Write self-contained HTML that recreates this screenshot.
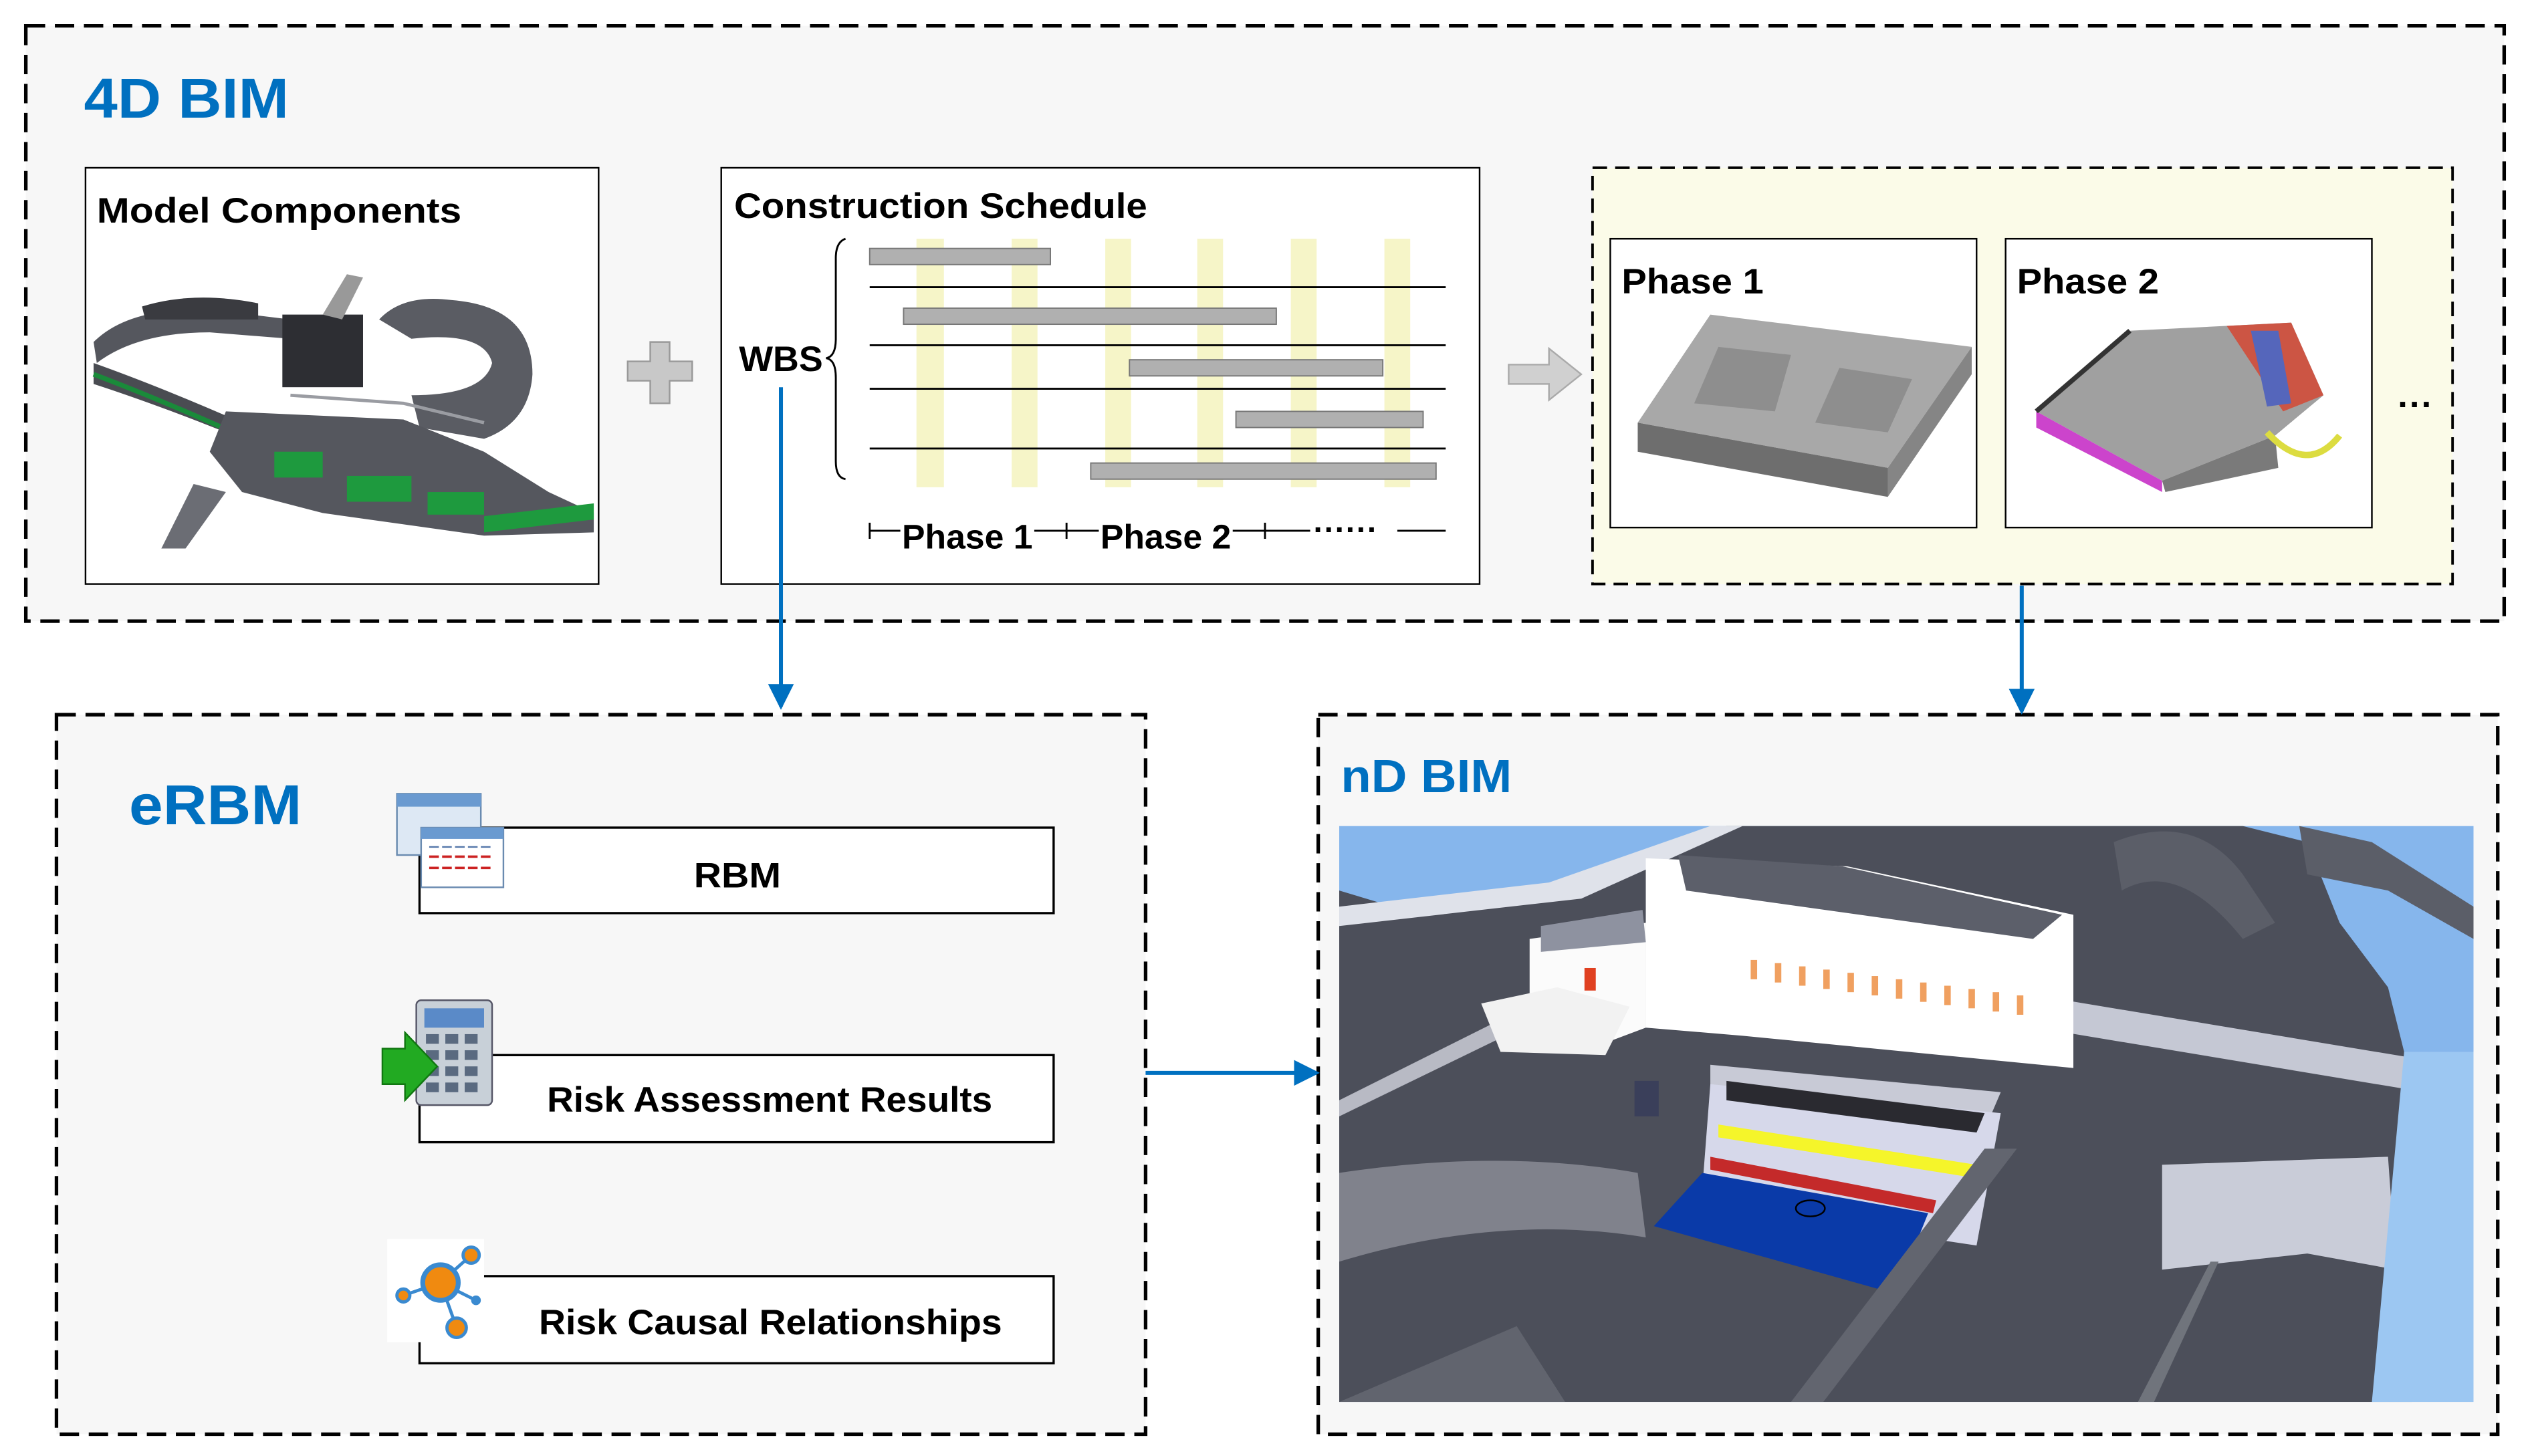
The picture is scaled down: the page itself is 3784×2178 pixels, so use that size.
<!DOCTYPE html>
<html><head><meta charset="utf-8"><style>
html,body{margin:0;padding:0;background:#fff;}
svg{display:block;}
text{font-family:"Liberation Sans",sans-serif;font-weight:bold;}
</style></head><body>
<svg width="3784" height="2178" viewBox="0 0 1568 902.5" preserveAspectRatio="none" xmlns="http://www.w3.org/2000/svg">
<defs>
<marker id="ab" markerWidth="16" markerHeight="16" refX="14" refY="8" orient="auto" markerUnits="userSpaceOnUse"><path d="M0,0 L16,8 L0,16 z" fill="#0070C0"/></marker>
</defs>
<rect width="1568" height="902.5" fill="#fff"/>
<rect x="16" y="16" width="1536" height="369" fill="#f7f7f7" stroke="#000" stroke-width="2.2" stroke-dasharray="12,6"/>
<text x="52" y="73" font-size="35" fill="#0070C0" textLength="127" lengthAdjust="spacingAndGlyphs">4D BIM</text>

<rect x="53" y="104" width="318" height="258" fill="#fff" stroke="#000" stroke-width="1"/>
<text x="60" y="138" font-size="22" fill="#000" textLength="226" lengthAdjust="spacingAndGlyphs">Model Components</text>
<g>
<path d="M58,212 Q80,190 130,192 L180,198 L180,210 L130,206 Q85,206 60,225 Z" fill="#55575e"/>
<path d="M58,225 Q100,240 150,262 L170,268 L165,276 L140,268 Q95,250 58,238 Z" fill="#4a4c52"/>
<path d="M58,232 Q95,246 140,266" stroke="#1a8a3a" stroke-width="3" fill="none"/>
<path d="M88,190 Q120,180 160,188 L160,198 L90,198 Z" fill="#3a3b40"/>
<path d="M235,198 Q250,182 280,186 Q330,190 330,232 Q328,262 300,272 L260,265 L255,245 Q300,245 305,225 Q300,205 255,210 Z" fill="#5a5c63"/>
<rect x="175" y="195" width="50" height="45" fill="#2d2e33"/>
<path d="M200,195 L215,170 L225,172 L212,198 Z" fill="#999"/>
<path d="M140,255 L250,260 L300,280 L340,305 L368,318 L368,330 L300,332 L200,318 L150,305 L130,280 Z" fill="#55575e"/>
<rect x="170" y="280" width="30" height="16" fill="#1e9a3e"/>
<rect x="215" y="295" width="40" height="16" fill="#1e9a3e"/>
<rect x="265" y="305" width="35" height="14" fill="#1e9a3e"/>
<path d="M300,320 L368,312 L368,322 L300,330 Z" fill="#1e9a3e"/>
<path d="M120,300 L100,340 L115,340 L140,305 Z" fill="#6b6d74"/>
<path d="M180,245 L250,250 L300,262" stroke="#9a9ca2" stroke-width="2" fill="none"/>
</g>

<path d="M403,212 h12 v12 h14 v12 h-14 v14 h-12 v-14 h-14 v-12 h14 z" fill="#c8c8c8" stroke="#999" stroke-width="1"/>

<rect x="447" y="104" width="470" height="258" fill="#fff" stroke="#000" stroke-width="1"/>
<text x="455" y="135" font-size="22" fill="#000" textLength="256" lengthAdjust="spacingAndGlyphs">Construction Schedule</text>
<g fill="#f6f5c8">
<rect x="568" y="148" width="17" height="154"/><rect x="627" y="148" width="16" height="154"/><rect x="685" y="148" width="16" height="154"/><rect x="742" y="148" width="16" height="154"/><rect x="800" y="148" width="16" height="154"/><rect x="858" y="148" width="16" height="154"/>
</g>
<g stroke="#000" stroke-width="1.2">
<line x1="539" y1="178" x2="896" y2="178"/><line x1="539" y1="214" x2="896" y2="214"/><line x1="539" y1="241" x2="896" y2="241"/><line x1="539" y1="278" x2="896" y2="278"/>
</g>
<g fill="#b0b0b0" stroke="#777" stroke-width="0.8">
<rect x="539" y="154" width="112" height="10"/><rect x="560" y="191" width="231" height="10"/><rect x="700" y="223" width="157" height="10"/><rect x="766" y="255" width="116" height="10"/><rect x="676" y="287" width="214" height="10"/>
</g>
<path d="M524,148 Q518,150 518,160 L518,210 Q518,221 512,222 Q518,223 518,234 L518,286 Q518,296 524,297" fill="none" stroke="#000" stroke-width="1.2"/>
<text x="458" y="230" font-size="22" fill="#000" textLength="52" lengthAdjust="spacingAndGlyphs">WBS</text>
<g stroke="#000" stroke-width="1.2">
<line x1="539" y1="329" x2="558" y2="329"/><line x1="539" y1="324" x2="539" y2="334"/>
<line x1="641" y1="329" x2="681" y2="329"/><line x1="661" y1="324" x2="661" y2="334"/>
<line x1="764" y1="329" x2="812" y2="329"/><line x1="784" y1="324" x2="784" y2="334"/>
<line x1="866" y1="329" x2="896" y2="329"/>
</g>
<text x="559" y="340" font-size="21" fill="#000" textLength="81" lengthAdjust="spacingAndGlyphs">Phase 1</text>
<text x="682" y="340" font-size="21" fill="#000" textLength="81" lengthAdjust="spacingAndGlyphs">Phase 2</text>
<text x="814" y="335" font-size="20" fill="#000">······</text>

<path d="M935,226 h25 v-10 l20,16 l-20,16 v-10 h-25 z" fill="#d0d0d0" stroke="#aaa" stroke-width="1"/>

<rect x="987" y="104" width="533" height="258" fill="#fbfbe8" stroke="#000" stroke-width="1.6" stroke-dasharray="9,5"/>
<rect x="998" y="148" width="227" height="179" fill="#fff" stroke="#000" stroke-width="1"/>
<text x="1005" y="182" font-size="22" fill="#000" textLength="88" lengthAdjust="spacingAndGlyphs">Phase 1</text>
<path d="M1060,195 L1222,215 L1170,290 L1015,262 Z" fill="#a8a8a8"/>
<path d="M1015,262 L1170,290 L1170,308 L1015,280 Z" fill="#6e6e6e"/>
<path d="M1170,290 L1222,215 L1222,232 L1170,308 Z" fill="#858585"/>
<path d="M1065,215 L1110,220 L1100,255 L1050,250 Z" fill="#8e8e8e"/>
<path d="M1140,228 L1185,235 L1170,268 L1125,262 Z" fill="#8e8e8e"/>
<rect x="1243" y="148" width="227" height="179" fill="#fff" stroke="#000" stroke-width="1"/>
<text x="1250" y="182" font-size="22" fill="#000" textLength="88" lengthAdjust="spacingAndGlyphs">Phase 2</text>
<path d="M1262,255 L1320,205 L1420,200 L1440,245 L1410,270 L1340,298 Z" fill="#a0a0a0"/>
<path d="M1262,255 L1340,298 L1340,305 L1262,265 Z" fill="#cc44cc"/>
<path d="M1340,298 L1410,270 L1412,290 L1342,305 Z" fill="#7a7a7a"/>
<path d="M1380,202 L1420,200 L1440,245 L1415,255 Z" fill="#cc5544"/>
<path d="M1395,205 L1412,205 L1420,250 L1405,252 Z" fill="#5566bb"/>
<path d="M1405,268 Q1430,295 1450,270" fill="none" stroke="#dcdc40" stroke-width="4"/>
<path d="M1262,255 L1320,205" stroke="#333" stroke-width="3"/>
<text x="1486" y="258" font-size="22" fill="#000">···</text>

<rect x="35" y="443" width="675" height="446" fill="#f7f7f7" stroke="#000" stroke-width="2.2" stroke-dasharray="12,6"/>
<text x="80" y="511" font-size="35" fill="#0070C0" textLength="107" lengthAdjust="spacingAndGlyphs">eRBM</text>
<rect x="260" y="513" width="393" height="53" fill="#fff" stroke="#000" stroke-width="1.4"/>
<text x="430" y="550" font-size="22" fill="#000" font-weight="normal" textLength="54" lengthAdjust="spacingAndGlyphs">RBM</text>
<rect x="260" y="654" width="393" height="54" fill="#fff" stroke="#000" stroke-width="1.4"/>
<text x="339" y="689" font-size="22" fill="#000" textLength="276" lengthAdjust="spacingAndGlyphs">Risk Assessment Results</text>
<rect x="260" y="791" width="393" height="54" fill="#fff" stroke="#000" stroke-width="1.4"/>
<text x="334" y="827" font-size="22" fill="#000" textLength="287" lengthAdjust="spacingAndGlyphs">Risk Causal Relationships</text>
<rect x="246" y="492" width="52" height="38" fill="#dde8f4" stroke="#6a8bb0" stroke-width="1"/>
<rect x="246" y="492" width="52" height="8" fill="#6a9ad0"/>
<rect x="261" y="513" width="51" height="37" fill="#fff" stroke="#6a8bb0" stroke-width="1"/>
<rect x="261" y="513" width="51" height="7" fill="#6a9ad0"/>
<g stroke="#cc2222" stroke-width="1.5"><line x1="266" y1="531" x2="306" y2="531" stroke-dasharray="6,2"/><line x1="266" y1="538" x2="306" y2="538" stroke-dasharray="6,2"/></g>
<line x1="266" y1="525" x2="306" y2="525" stroke="#5577aa" stroke-dasharray="6,2"/>
<rect x="258" y="620" width="47" height="65" rx="3" fill="#c8d0d8" stroke="#556" stroke-width="1"/>
<rect x="263" y="625" width="37" height="12" fill="#5a8ac8"/>
<g fill="#5a6a80"><rect x="264" y="641" width="8" height="6"/><rect x="276" y="641" width="8" height="6"/><rect x="288" y="641" width="8" height="6"/><rect x="264" y="651" width="8" height="6"/><rect x="276" y="651" width="8" height="6"/><rect x="288" y="651" width="8" height="6"/><rect x="264" y="661" width="8" height="6"/><rect x="276" y="661" width="8" height="6"/><rect x="288" y="661" width="8" height="6"/><rect x="264" y="671" width="8" height="6"/><rect x="276" y="671" width="8" height="6"/><rect x="288" y="671" width="8" height="6"/></g>
<path d="M237,650 h14 v-10 l20,21 l-20,21 v-10 h-14 z" fill="#22aa22" stroke="#117711" stroke-width="1"/>
<rect x="240" y="768" width="60" height="64" fill="#fff"/>
<g stroke="#3a8ad0" stroke-width="2" fill="none"><line x1="273" y1="795" x2="292" y2="778"/><line x1="273" y1="795" x2="250" y2="803"/><line x1="273" y1="795" x2="283" y2="823"/><line x1="273" y1="795" x2="295" y2="806"/></g>
<circle cx="273" cy="795" r="11" fill="#f08a10" stroke="#3a8ad0" stroke-width="3"/>
<circle cx="292" cy="778" r="5" fill="#f08a10" stroke="#3a8ad0" stroke-width="2"/>
<circle cx="250" cy="803" r="4" fill="#f08a10" stroke="#3a8ad0" stroke-width="2"/>
<circle cx="283" cy="823" r="6" fill="#f08a10" stroke="#3a8ad0" stroke-width="2"/>
<circle cx="295" cy="806" r="3" fill="#3a8ad0"/>

<rect x="817" y="443" width="731" height="446" fill="#f7f7f7" stroke="#000" stroke-width="2.2" stroke-dasharray="12,6"/>
<text x="831" y="491" font-size="29" fill="#0070C0" textLength="106" lengthAdjust="spacingAndGlyphs">nD BIM</text>
<svg x="830" y="512" width="703" height="357" viewBox="0 0 703 357" preserveAspectRatio="none">
<rect width="703" height="357" fill="#86b6ec"/>
<path d="M0,40 L40,52 L70,50 L140,40 L240,0 L560,0 L600,10 L620,60 L650,100 L660,140 L665,357 L0,357 Z" fill="#4c4f5a"/>
<path d="M0,50 L130,35 L230,0 L250,0 L150,45 L0,62 Z" fill="#dfe2ea"/>
<path d="M480,10 Q530,-10 560,30 L580,60 L560,70 Q520,20 485,40 Z" fill="#5b5e68"/>
<path d="M595,0 L640,10 L703,50 L703,70 L650,40 L600,30 Z" fill="#5b5e68"/>
<path d="M140,100 L0,170 L0,180 L140,112 Z" fill="#b8bac4"/>
<path d="M450,108 L703,150 L703,170 L450,128 Z" fill="#c5c8d4"/>
<path d="M0,215 Q100,200 185,215 L190,255 Q100,240 0,270 Z" fill="#80828c"/>
<path d="M510,210 L650,205 L655,275 L600,265 L510,275 Z" fill="#c9ccd8"/>
<path d="M190,20 L315,25 L455,55 L455,150 L250,130 L190,125 Z" fill="#ffffff"/>
<path d="M210,18 L312,25 L448,55 L430,70 L215,40 Z" fill="#5c5f6a"/>
<g fill="#f0a060"><rect x="255" y="83" width="4" height="12"/><rect x="270" y="85" width="4" height="12"/><rect x="285" y="87" width="4" height="12"/><rect x="300" y="89" width="4" height="12"/><rect x="315" y="91" width="4" height="12"/><rect x="330" y="93" width="4" height="12"/><rect x="345" y="95" width="4" height="12"/><rect x="360" y="97" width="4" height="12"/><rect x="375" y="99" width="4" height="12"/><rect x="390" y="101" width="4" height="12"/><rect x="405" y="103" width="4" height="12"/><rect x="420" y="105" width="4" height="12"/></g>
<path d="M118,70 L190,60 L190,125 L150,140 L118,130 Z" fill="#fbfbfb"/>
<path d="M125,62 L188,52 L190,72 L125,78 Z" fill="#8e92a0"/>
<rect x="152" y="88" width="7" height="14" fill="#e04020"/>
<path d="M88,110 L135,100 L180,112 L165,142 L100,140 Z" fill="#f2f2f2"/>
<path d="M230,148 L410,165 L395,200 L230,180 Z" fill="#c8cad6"/>
<path d="M230,160 L410,178 L395,260 L260,240 L225,225 Z" fill="#d6d8ea"/>
<path d="M235,185 L395,210 L393,218 L235,193 Z" fill="#f5f52a"/>
<path d="M230,205 L370,232 L368,240 L230,213 Z" fill="#c42a2a"/>
<path d="M225,215 L365,240 L345,290 L195,248 Z" fill="#0a3aa8"/>
<path d="M240,158 L400,178 L395,190 L240,170 Z" fill="#2a2a30"/>
<ellipse cx="292" cy="237" rx="9" ry="5" fill="none" stroke="#000" stroke-width="1"/>
<rect x="183" y="158" width="15" height="22" fill="#3a3f5a"/>
<path d="M0,357 L110,310 L140,357 Z" fill="#61646e"/>
<path d="M400,200 L420,200 L300,357 L280,357 Z" fill="#62656f"/>
<path d="M540,270 L545,270 L505,357 L495,357 Z" fill="#70747c"/>
<path d="M660,140 L703,140 L703,357 L640,357 Z" fill="#9cc7f2"/>
</svg>

<g stroke="#0070C0" stroke-width="2.5" fill="none">
<line x1="484" y1="240" x2="484" y2="438" marker-end="url(#ab)"/>
<line x1="1253" y1="363" x2="1253" y2="441" marker-end="url(#ab)"/>
<line x1="710" y1="665" x2="816" y2="665" marker-end="url(#ab)"/>
</g>
</svg>
</body></html>
